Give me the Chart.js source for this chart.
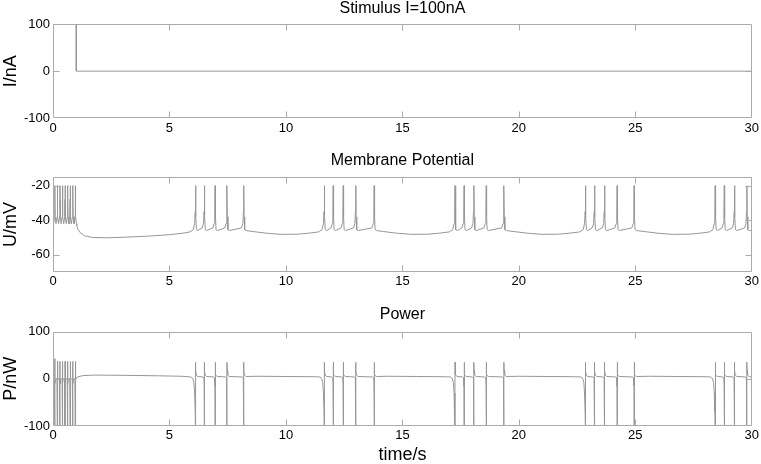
<!DOCTYPE html>
<html lang="en">
<head>
  <meta charset="UTF-8" />
  <title>Stimulus, Membrane Potential, Power</title>
  <script src="https://cdn.jsdelivr.net/npm/chart.js"></script>
  <style>
    body {
      margin: 0;
      padding: 0;
      background: #fff;
      width: 761px;
      height: 464px;
      overflow: hidden;
      position: relative;
    }
    canvas {
      position: absolute;
      left: 0;
    }
  </style>
</head>
<body>
  <canvas id="stimChart" width="761" height="152" style="top:0px"></canvas>
  <canvas id="memChart" width="761" height="155" style="top:152px"></canvas>
  <canvas id="powChart" width="761" height="157" style="top:307px"></canvas>
<script>
// axis ticks
const xTicks = [0, 5, 10, 15, 20, 25, 30];
const iTicks = [-100, 0, 100];
const uTicks = [-60, -40, -20];
const pTicks = [-100, 0, 100];

// stimulus current (nA)
const stimT = [0, 1, 1, 30];
const stimI = [100, 100, 0, 0];

// spike times (s)
const initSpikeT = [0.08, 0.19, 0.30, 0.41, 0.52, 0.63, 0.74, 0.85, 0.96];
const burstFirstT = [6.12, 11.65, 17.26, 22.86, 28.43];
const burstNextT = [6.50, 6.96, 7.47, 8.19,
                    12.03, 12.46, 13.00, 13.79,
                    17.65, 18.07, 18.60, 19.36,
                    23.25, 23.68, 24.22, 24.95,
                    28.82, 29.26, 29.79];

// membrane potential (mV): slow baseline between bursts
const uBaseT = [0, 0.02, 1.02, 1.06, 1.15, 1.35, 1.7, 2.3, 3.0, 4.0, 5.0, 5.6,
                8.6, 9.2, 9.8, 10.5, 11.0,
                14.2, 14.8, 15.4, 16.1, 16.6,
                19.8, 20.4, 21.0, 21.7, 22.2,
                25.4, 26.0, 26.6, 27.3, 27.8,
                30];
const uBaseV = [-48, -44, -43, -45, -47, -49, -50, -50.2, -49.9, -49.3, -48.4, -47.5,
                -46.6, -47.6, -48.2, -48.1, -47.5,
                -46.6, -47.6, -48.2, -48.1, -47.5,
                -46.6, -47.6, -48.2, -48.1, -47.5,
                -46.6, -47.6, -48.2, -48.1, -47.5,
                -45.8];
// spike shapes (offset from spike time, value)
const uInitDt = [-0.05, -0.015, -0.004, 0, 0.004, 0.015, 0.05];
const uInitV = [-42, -38, -28, -20, -28, -38, -42];
const uFirstDt = [-0.25, -0.1, -0.04, -0.015, 0, 0.015, 0.04, 0.1];
const uFirstV = [-46.8, -45.5, -42, -35, -20, -38, -45.5, -46];
const uNextDt = [-0.1, -0.04, -0.015, 0, 0.015, 0.04, 0.1];
const uNextV = [-44.5, -42, -35, -20, -38, -45.5, -46];

// power (nW)
const pBaseT = [0, 0.03, 1.0, 1.04, 1.3, 1.8, 3.0, 4.5, 5.5, 5.8,
                8.8, 10.0, 11.2,
                14.4, 15.6, 16.8,
                20.0, 21.2, 22.4,
                25.6, 26.8, 28.0,
                30];
const pBaseV = [0, 0, 0, 4, 7, 8, 7.5, 6.5, 5.5, 4.5,
                5.5, 5, 4.5,
                5.5, 5, 4.5,
                5.5, 5, 4.5,
                5.5, 5, 4.5,
                4];
const pInitDt = [-0.02, -0.005, 0, 0.005, 0.02];
const pInitV = [0, -120, 38, -10, 0];
const pInitPeak = [43, 38, 37, 37, 37, 37, 37, 37, 37];
const pFirstDt = [-0.2, -0.12, -0.07, -0.04, -0.015, -0.003, 0, 0.008, 0.03, 0.1];
const pFirstV = [4, 1, -8, -30, -70, -120, 35, 18, 8, 5];
const pNextDt = [-0.06, -0.02, -0.008, -0.003, 0, 0.008, 0.03, 0.1];
const pNextV = [4, 2, -15, -120, 35, 18, 8, 5];

function placeSpikes(times, dts, vals, peaks) {
  const pts = [];
  times.forEach((t, i) => {
    dts.forEach((d, j) => {
      let v = vals[j];
      if (peaks && d === 0) v = peaks[i];
      pts.push({ x: +(t + d).toFixed(4), y: v });
    });
  });
  return pts;
}

function trace(baseT, baseV, parts) {
  let pts = baseT.map((t, i) => ({ x: t, y: baseV[i] }));
  parts.forEach(p => { pts = pts.concat(p); });
  return pts.sort((a, b) => a.x - b.x);
}

const stimData = stimT.map((t, i) => ({ x: t, y: stimI[i] }));
const memData = trace(uBaseT, uBaseV, [
  placeSpikes(initSpikeT, uInitDt, uInitV),
  placeSpikes(burstFirstT, uFirstDt, uFirstV),
  placeSpikes(burstNextT, uNextDt, uNextV)
]);
const powData = trace(pBaseT, pBaseV, [
  placeSpikes(initSpikeT, pInitDt, pInitV, pInitPeak),
  placeSpikes(burstFirstT, pFirstDt, pFirstV),
  placeSpikes(burstNextT, pNextDt, pNextV)
]);

const FONT = "'Liberation Sans', Arial, sans-serif";
const BOX = '#ababab';

// matlab style box with inward ticks (end ticks sit on the box itself)
const boxPlugin = {
  id: 'box',
  afterDatasetsDraw(chart) {
    const { ctx, chartArea: a, scales } = chart;
    const L = Math.round(a.left) + 0.5, R = Math.round(a.right) - 0.5;
    const T = Math.round(a.top) + 0.5, B = Math.round(a.bottom) - 0.5;
    const len = 6;
    ctx.save();
    ctx.strokeStyle = BOX;
    ctx.lineWidth = 1;
    ctx.beginPath();
    ctx.rect(L, T, R - L, B - T);
    scales.x.ticks.forEach(tk => {
      if (tk.value <= scales.x.min || tk.value >= scales.x.max) return;
      const px = Math.round(scales.x.getPixelForValue(tk.value)) + 0.5;
      ctx.moveTo(px, B); ctx.lineTo(px, B - len);
      ctx.moveTo(px, T); ctx.lineTo(px, T + len);
    });
    scales.y.ticks.forEach(tk => {
      if (tk.value <= scales.y.min || tk.value >= scales.y.max) return;
      const py = Math.round(scales.y.getPixelForValue(tk.value)) + 0.5;
      ctx.moveTo(L, py); ctx.lineTo(L + len, py);
      ctx.moveTo(R, py); ctx.lineTo(R - len, py);
    });
    ctx.stroke();
    ctx.restore();
  }
};

function makeChart(id, data, opts) {
  return new Chart(document.getElementById(id), {
    type: 'line',
    data: {
      datasets: [{
        data,
        xAxisID: 'x',
        borderColor: '#969696',
        borderWidth: 1,
        pointRadius: 0,
        tension: 0,
        fill: false
      }]
    },
    options: {
      responsive: false,
      animation: false,
      events: [],
      layout: { padding: { left: 0, right: 8, top: 0, bottom: 0 } },
      plugins: {
        legend: { display: false },
        tooltip: { enabled: false },
        title: { display: false }
      },
      scales: {
        // top axis only carries the panel title, centred over the plot box
        top: {
          type: 'linear',
          position: 'top',
          min: 0,
          max: 30,
          afterFit: s => { s.height = opts.topHeight; },
          grid: { display: false, drawTicks: false },
          border: { display: false },
          ticks: { display: false },
          title: {
            display: true,
            text: opts.title,
            color: '#000',
            font: { family: FONT, size: 16, lineHeight: 1 },
            padding: { top: opts.titleTop, bottom: 0 }
          }
        },
        x: {
          type: 'linear',
          position: 'bottom',
          min: 0,
          max: 30,
          afterBuildTicks: s => { s.ticks = xTicks.map(v => ({ value: v })); },
          afterFit: s => { s.height = opts.xHeight; },
          grid: { display: false, drawTicks: false },
          border: { display: false },
          ticks: { color: '#000', font: { family: FONT, size: 13 }, padding: 2, maxRotation: 0 },
          title: {
            display: !!opts.xTitle,
            text: opts.xTitle || '',
            color: '#000',
            font: { family: FONT, size: 18, lineHeight: 1 },
            padding: { top: 0, bottom: 0 }
          }
        },
        y: {
          min: opts.yMin,
          max: opts.yMax,
          afterBuildTicks: s => { s.ticks = opts.yTicks.map(v => ({ value: v })); },
          afterFit: s => { s.width = 53; },
          grid: { display: false, drawTicks: false },
          border: { display: false },
          ticks: { color: '#000', font: { family: FONT, size: 13 }, padding: 3 },
          title: {
            display: true,
            text: opts.yTitle,
            color: '#000',
            font: { family: FONT, size: 18 },
            padding: { top: 0, bottom: 0 }
          }
        }
      }
    },
    plugins: [boxPlugin]
  });
}

makeChart('stimChart', stimData, {
  title: 'Stimulus I=100nA', topHeight: 24, titleTop: 0.3,
  xHeight: 33.7, yMin: -100, yMax: 100, yTicks: iTicks, yTitle: 'I/nA'
});
makeChart('memChart', memData, {
  title: 'Membrane Potential', topHeight: 25, titleTop: 0.7,
  xHeight: 35, yMin: -70, yMax: -15, yTicks: uTicks, yTitle: 'U/mV'
});
makeChart('powChart', powData, {
  title: 'Power', topHeight: 24.7, titleTop: 0,
  xHeight: 38, yMin: -100, yMax: 100, yTicks: pTicks, yTitle: 'P/nW', xTitle: 'time/s'
});
</script>
</body>
</html>
